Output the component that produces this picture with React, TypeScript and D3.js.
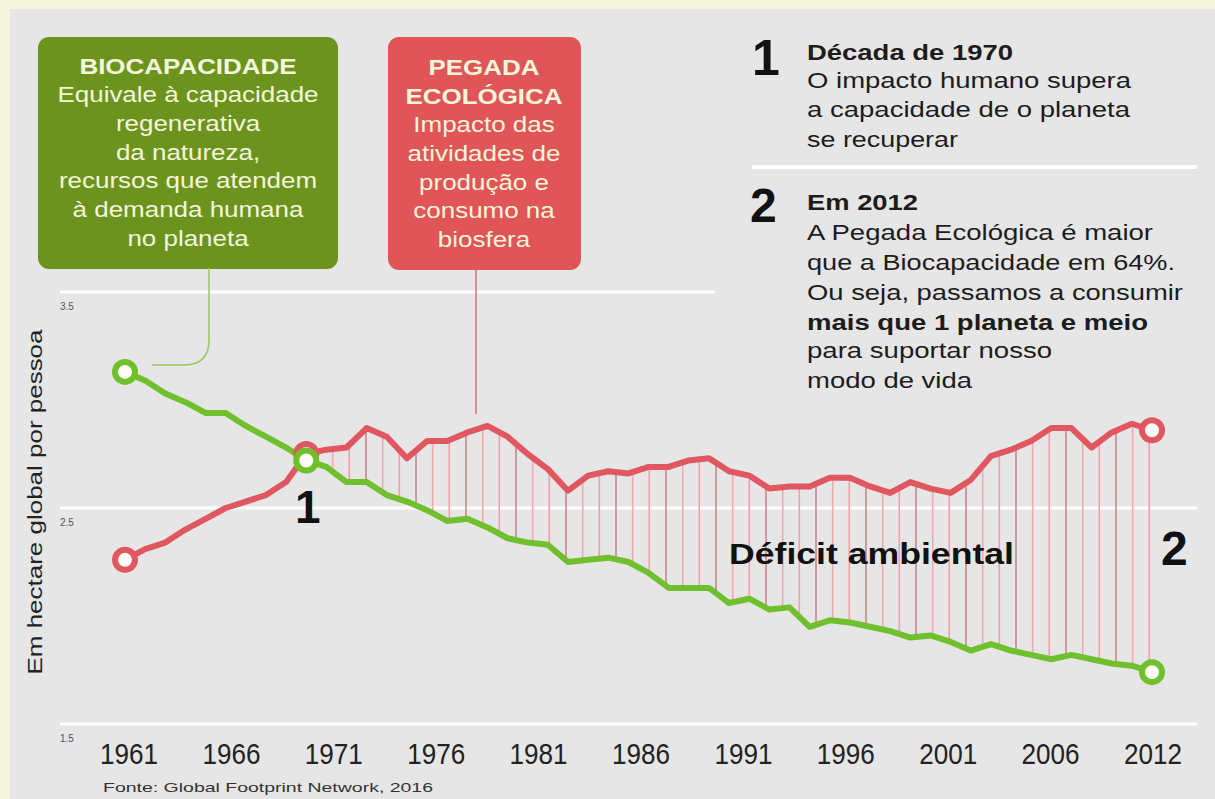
import React from 'react';
import * as d3 from 'd3';

// Pegada Ecológica x Biocapacidade, hectare global por pessoa (1961-2012)
const firstYear = 1961;
const footprint = [
  2.26, 2.31, 2.34, 2.40, 2.45, 2.50, 2.53, 2.56, 2.62, 2.75,
  2.77, 2.78, 2.87, 2.83, 2.73, 2.81, 2.81, 2.85, 2.88, 2.83,
  2.75, 2.68, 2.58, 2.65, 2.67, 2.66, 2.69, 2.69, 2.72, 2.73,
  2.67, 2.65, 2.59, 2.60, 2.60, 2.64, 2.64, 2.60, 2.57, 2.62,
  2.59, 2.57, 2.63, 2.74, 2.77, 2.81, 2.87, 2.87, 2.78, 2.85,
  2.89, 2.86,
];
const biocapacity = [
  3.13, 3.09, 3.03, 2.99, 2.94, 2.94, 2.88, 2.83, 2.78, 2.72,
  2.69, 2.62, 2.62, 2.56, 2.53, 2.49, 2.44, 2.45, 2.41, 2.36,
  2.34, 2.33, 2.25, 2.26, 2.27, 2.25, 2.20, 2.13, 2.13, 2.13,
  2.06, 2.08, 2.03, 2.04, 1.95, 1.98, 1.97, 1.95, 1.93, 1.90,
  1.91, 1.88, 1.84, 1.87, 1.84, 1.82, 1.80, 1.82, 1.80, 1.78,
  1.77, 1.74,
];
const markedYears = [1961, 1970, 2012];
const deficitFrom = 1970;
const yTicks = [3.5, 2.5, 1.5];
const xTickLabels = ['1961', '1966', '1971', '1976', '1981', '1986', '1991', '1996', '2001', '2006', '2012'];

const greenBoxLines = ['Equivale à capacidade', 'regenerativa', 'da natureza,', 'recursos que atendem', 'à demanda humana', 'no planeta'];
const redBoxTitle = ['PEGADA', 'ECOLÓGICA'];
const redBoxLines = ['Impacto das', 'atividades de', 'produção e', 'consumo na', 'biosfera'];

const W = 1215;
const H = 799;
const FONT = '"Liberation Sans", Arial, Helvetica, sans-serif';
const GREEN = '#70c02d';
const RED = '#e0575f';
const BOX_GREEN = '#6d931f';
const BOX_RED = '#e05557';
const BOX_TEXT = '#f4f6dc';
const INK = '#1c1c1c';

const rows = footprint.map((f, i) => ({ year: firstYear + i, foot: f, bio: biocapacity[i] }));

const x = d3.scaleLinear().domain([1961, 2012]).range([125, 1152]);
const y = d3.scaleLinear().domain([1.5, 3.5]).range([724, 292]);
const xLabel = d3.scalePoint<string>().domain(xTickLabels).range([129, 1153]);

const footLine = d3.line<any>().x(d => x(d.year)).y(d => y(d.foot));
const bioLine = d3.line<any>().x(d => x(d.year)).y(d => y(d.bio));
const deficitArea = d3.area<any>()
  .x(d => x(d.year))
  .y0(d => y(d.bio))
  .y1(d => y(d.foot));

type Txt = { t: string; x: number; y: number; size: number; w?: number; bold?: boolean; fill?: string; anchor?: string };

const T = ({ t, x, y, size, w, bold, fill, anchor }: Txt) => (
  <text
    x={x}
    y={y}
    fontSize={size}
    fontWeight={bold ? 'bold' : 'normal'}
    fill={fill || INK}
    textAnchor={anchor || 'start'}
    textLength={w}
    lengthAdjust={w ? 'spacingAndGlyphs' : undefined}
  >
    {t}
  </text>
);

// text widened the way the source artwork is
const Wide = ({ t, x, y, size, k, bold, fill }: { t: string; x: number; y: number; size: number; k: number; bold?: boolean; fill: string }) => (
  <text
    transform={`translate(${x},${y}) scale(${k},1)`}
    fontSize={size}
    fontWeight={bold ? 'bold' : 'normal'}
    fill={fill}
    textAnchor="middle"
  >
    {t}
  </text>
);

const notesText: Txt[] = [
  { t: 'Década de 1970', x: 807, y: 60, size: 22, w: 206, bold: true },
  { t: 'O impacto humano supera', x: 807, y: 88, size: 22, w: 324 },
  { t: 'a capacidade de o planeta', x: 807, y: 117, size: 22, w: 323 },
  { t: 'se recuperar', x: 807, y: 147, size: 22, w: 151 },
  { t: 'Em 2012', x: 807, y: 210, size: 22, w: 111, bold: true },
  { t: 'A Pegada Ecológica é maior', x: 807, y: 240, size: 22, w: 346 },
  { t: 'que a Biocapacidade em 64%.', x: 807, y: 270, size: 22, w: 368 },
  { t: 'Ou seja, passamos a consumir', x: 807, y: 300, size: 22, w: 376 },
  { t: 'mais que 1 planeta e meio', x: 807, y: 330, size: 22, w: 341, bold: true },
  { t: 'para suportar nosso', x: 807, y: 358, size: 22, w: 245 },
  { t: 'modo de vida', x: 807, y: 388, size: 22, w: 165 },
];

export default function App() {
  const deficitRows = rows.filter(d => d.year >= deficitFrom);
  const marked = rows.filter(d => markedYears.includes(d.year));
  const first = rows[0];
  const peak = rows.reduce((a, b) => (b.year < 1985 && b.foot > a.foot ? b : a), rows[0]);

  // green callout: down from the box, then a rounded turn to the 1961 point
  const gx = 209;
  const gy = y(first.bio) - 7;
  const greenCallout = `M${gx},268 L${gx},${gy - 25} Q${gx},${gy} ${gx - 25},${gy} L${x(first.year) + 27},${gy}`;

  return (
    <svg
      width={W}
      height={H}
      style={{ position: 'absolute', left: 0, top: 0, display: 'block' }}
      fontFamily={FONT}
    >
      <defs>
        <pattern id="hatch" patternUnits="userSpaceOnUse" x={15} y={0} width={50} height={20}>
          <line x1={1} x2={1} y1={0} y2={20} stroke="#c4707c" strokeWidth={1.3} />
          <line x1={17.7} x2={17.7} y1={0} y2={20} stroke="#f3a9b0" strokeWidth={1.6} />
          <line x1={34.3} x2={34.3} y1={0} y2={20} stroke="#f0a0a8" strokeWidth={1.6} />
        </pattern>
      </defs>

      <rect width={W} height={H} fill="#f6f6e0" />
      <rect x={10} y={9} width={W - 10} height={H - 9} fill="#e6e6e6" />

      {/* grid */}
      {yTicks.map(v => (
        <g key={v}>
          <line
            x1={60}
            x2={v === 3.5 ? 715 : 1197}
            y1={y(v)}
            y2={y(v)}
            stroke="#ffffff"
            strokeWidth={3}
          />
          <text x={60} y={y(v) + 18} fontSize={10} fill="#555">
            {d3.format('.1f')(v)}
          </text>
        </g>
      ))}

      {/* deficit hatching */}
      <path d={deficitArea(deficitRows) || ''} fill="url(#hatch)" />

      {/* callout boxes */}
      <rect x={38} y={37} width={300} height={232} rx={11} fill={BOX_GREEN} />
      <rect x={388} y={37} width={193} height={233} rx={11} fill={BOX_RED} />
      <path d={greenCallout} fill="none" stroke="#98c75a" strokeWidth={1.5} />
      <line x1={476} x2={476} y1={270} y2={y(peak.foot) - 12} stroke="#d8707b" strokeWidth={1.5} />

      <Wide t="BIOCAPACIDADE" x={188} y={74} size={22} k={1.18} bold fill={BOX_TEXT} />
      {greenBoxLines.map((t, i) => (
        <Wide key={t} t={t} x={188} y={102 + i * 28.8} size={22} k={1.18} fill={BOX_TEXT} />
      ))}
      {redBoxTitle.map((t, i) => (
        <Wide key={t} t={t} x={484} y={75 + i * 29} size={22} k={1.18} bold fill={BOX_TEXT} />
      ))}
      {redBoxLines.map((t, i) => (
        <Wide key={t} t={t} x={484} y={132 + i * 28.8} size={22} k={1.18} fill={BOX_TEXT} />
      ))}

      {/* series */}
      <path d={footLine(rows) || ''} fill="none" stroke={RED} strokeWidth={6} strokeLinejoin="round" />
      <path d={bioLine(rows) || ''} fill="none" stroke={GREEN} strokeWidth={6} strokeLinejoin="round" />
      {marked.map(d => (
        <g key={d.year}>
          <circle cx={x(d.year)} cy={y(d.foot)} r={10} fill="#fdfdf8" stroke={RED} strokeWidth={6} />
          <circle cx={x(d.year)} cy={y(d.bio)} r={10} fill="#fdfdf8" stroke={GREEN} strokeWidth={6} />
        </g>
      ))}

      {/* notes on the right */}
      <text x={752} y={75} fontSize={50} fontWeight="bold" fill="#111">1</text>
      <line x1={752} x2={1197} y1={167} y2={167} stroke="#ffffff" strokeWidth={4} />
      <text x={750} y={222} fontSize={48} fontWeight="bold" fill="#111">2</text>
      {notesText.map(d => <T key={d.t} {...d} />)}

      {/* markers in the chart */}
      <text x={295} y={523} fontSize={46} fontWeight="bold" fill="#111">1</text>
      <text x={1161} y={565} fontSize={48} fontWeight="bold" fill="#111">2</text>
      <T t="Déficit ambiental" x={729} y={564} size={30} w={285} bold fill="#111" />

      {/* axes */}
      {xTickLabels.map(l => (
        <T key={l} t={l} x={xLabel(l) || 0} y={764} size={30} w={58} anchor="middle" fill="#222" />
      ))}
      <text
        transform="translate(42,502) rotate(-90)"
        fontSize={21}
        textAnchor="middle"
        fill="#222"
        textLength={345}
        lengthAdjust="spacingAndGlyphs"
      >
        Em hectare global por pessoa
      </text>
      <T t="Fonte: Global Footprint Network, 2016" x={103} y={792} size={13} w={330} fill="#333" />
    </svg>
  );
}
